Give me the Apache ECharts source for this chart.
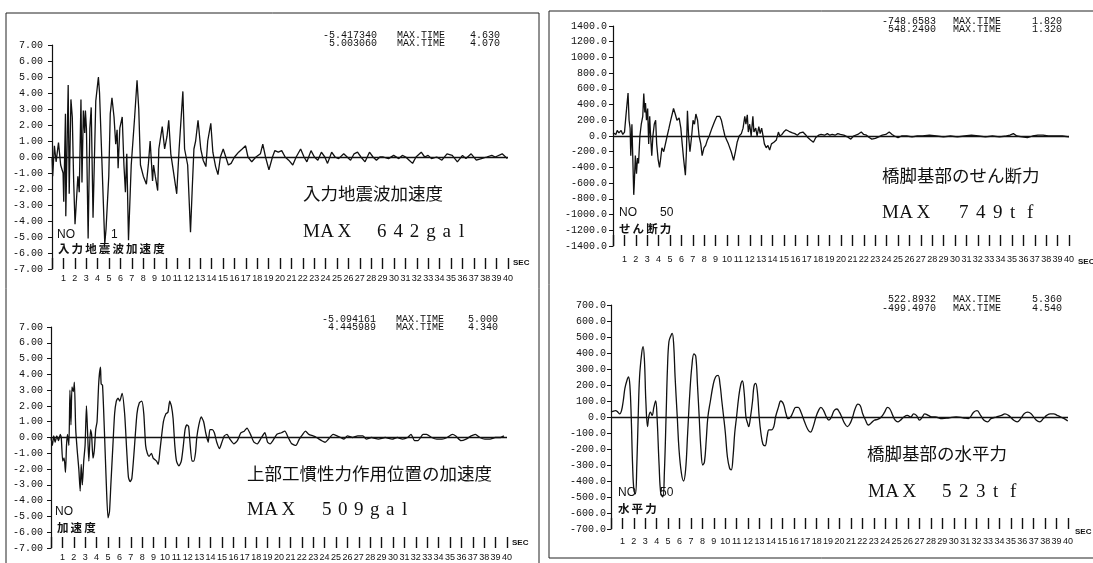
<!DOCTYPE html>
<html>
<head>
<meta charset="utf-8">
<script src="https://cdn.jsdelivr.net/npm/echarts/dist/echarts.min.js"></script>
<style>
html,body{margin:0;padding:0;background:#fff;}
#chart{width:1093px;height:563px;}
</style>
</head>
<body>
<div id="chart"></div>
<script>
// ---------- data (time in sec) ----------
const secTicks = [0, 40, 1];

// 入力地震波加速度 (m/s2)
const inputAccTime = [0.00,0.06,0.21,0.36,0.57,0.76,0.97,1.03,1.18,1.21,1.42,1.51,1.66,1.78,1.90,2.02,2.27,2.39,2.54,2.63,2.75,2.87,2.93,3.02,3.17,3.32,3.44,3.60,3.84,4.07,4.17,4.63,4.74,4.98,5.11,5.26,5.44,5.59,5.71,5.80,5.95,6.16,6.31,6.44,6.56,6.71,6.95,7.25,7.46,7.61,7.76,8.01,8.28,8.46,8.61,8.82,8.91,9.06,9.27,9.37,9.67,9.88,10.09,10.24,10.42,10.63,10.94,11.15,11.48,11.63,11.90,12.15,12.30,12.45,12.60,12.81,13.05,13.26,13.50,13.66,13.93,14.11,14.35,14.56,14.77,15.02,15.17,15.47,15.71,16.01,16.37,16.68,16.98,17.19,17.52,17.89,18.28,18.49,18.73,19.03,19.34,19.55,19.85,20.15,20.45,20.76,21.12,21.42,21.81,22.11,22.36,22.72,23.02,23.32,23.63,23.93,24.17,24.53,24.83,25.14,25.59,25.89,26.19,26.50,26.80,27.10,27.46,27.85,28.16,28.46,28.76,29.06,29.52,29.97,30.42,30.73,31.03,31.33,31.63,31.93,32.39,32.69,32.99,33.29,33.75,34.20,34.65,35.11,35.56,36.01,36.31,36.77,37.22,37.67,38.13,38.58,38.88,39.49,39.79,39.94];
const inputAccValue = [0.0,-1.2,0.7,-0.3,0.9,-0.5,-1.0,-2.8,2.7,-3.7,4.5,-2.3,3.6,2.5,-1.5,-4.2,-1.2,-2.2,3.6,-1.6,2.9,1.5,2.9,1.8,-5.1,1.8,3.1,-3.8,3.5,5.0,4.0,-5.42,-4.5,-1.2,2.7,3.7,2.5,0.8,1.7,-0.7,1.8,2.5,-0.5,-2.2,0.2,-5.2,-0.5,2.5,4.8,3.0,-0.5,-1.2,-1.7,-0.4,1.0,-1.5,-0.5,-1.2,-2.1,0.5,1.9,0.5,1.3,2.3,0.2,-0.8,-2.3,0.5,4.1,0.5,-0.5,-4.7,-2.0,0.5,1.0,2.3,0.5,-0.2,-0.6,1.0,2.1,0.3,-0.6,-1.1,0.0,0.5,0.6,-0.5,-0.4,0.0,0.3,0.5,0.7,0.0,-0.3,0.0,0.2,0.8,0.0,-0.8,0.0,0.4,0.3,0.4,0.0,-0.2,-0.5,0.0,0.5,0.0,-0.3,0.4,0.0,-0.2,0.3,0.0,-0.4,0.3,0.0,-0.1,0.2,0.0,-0.2,0.2,0.3,0.0,-0.3,0.3,0.0,-0.2,0.0,0.0,-0.1,0.1,-0.1,0.1,0.0,-0.2,-0.4,0.0,0.3,0.0,0.1,-0.1,0.0,-0.2,0.2,0.1,-0.3,0.1,-0.1,0.2,-0.2,-0.1,0.0,0.1,0.0,0.2,0.0,-0.1];

// 上部工慣性力作用位置の加速度
const deckAccTime = [0.00,0.12,0.24,0.36,0.51,0.66,0.81,0.90,1.03,1.15,1.27,1.36,1.45,1.57,1.66,1.75,1.84,1.96,2.05,2.17,2.32,2.44,2.56,2.65,2.75,2.87,2.99,3.11,3.20,3.32,3.47,3.56,3.68,3.80,3.92,4.04,4.19,4.34,4.40,4.52,4.68,4.83,5.00,5.13,5.25,5.43,5.58,5.73,5.88,6.03,6.24,6.46,6.64,6.79,6.94,7.09,7.30,7.54,7.75,7.96,8.14,8.30,8.45,8.60,8.81,8.96,9.26,9.41,9.56,9.86,10.08,10.26,10.41,10.56,10.71,10.86,11.01,11.22,11.43,11.61,11.76,11.92,12.07,12.19,12.37,12.52,12.67,12.79,12.97,13.18,13.39,13.57,13.79,13.94,14.15,14.33,14.54,14.78,14.99,15.20,15.44,15.69,16.05,16.35,16.65,16.95,17.19,17.50,17.80,18.10,18.46,18.76,19.00,19.22,19.46,19.82,20.21,20.51,20.81,21.12,21.48,21.78,22.08,22.32,22.62,22.99,23.29,23.74,24.04,24.34,24.74,25.10,25.40,25.70,26.00,26.46,26.91,27.36,27.66,28.11,28.72,29.32,29.92,30.38,30.83,31.28,31.58,31.89,32.19,32.64,32.94,33.39,33.85,34.30,34.75,35.20,35.51,35.96,36.41,36.86,37.22,37.62,38.07,38.52,38.97,39.43,39.73];
const deckAccValue = [0.0,-0.5,0.1,-0.3,0.1,-0.2,0.2,0.0,-1.5,-1.3,-2.2,-0.5,0.2,-0.5,3.0,0.8,3.2,2.9,3.5,0.5,-1.0,-2.0,-3.4,-1.7,-3.0,-1.5,-0.5,2.0,0.5,-1.5,0.5,0.2,-1.3,-0.8,0.5,1.0,3.5,4.45,3.4,3.3,0.5,-2.5,-5.09,-4.7,-3.0,-0.5,1.5,2.3,2.5,2.3,2.8,1.5,-0.8,-2.5,-2.8,-2.6,-0.8,1.5,2.2,2.3,1.5,-0.5,-1.0,-1.2,-1.0,-1.3,-1.5,-1.7,-0.8,1.0,1.5,1.6,2.3,2.0,1.2,-0.5,-1.5,-1.8,-1.5,-0.5,0.5,0.8,0.7,-0.3,-1.5,-1.5,-1.0,0.0,0.8,1.3,1.0,0.3,-0.3,0.5,0.5,0.3,-0.3,-0.7,-0.3,0.1,0.2,-0.1,-0.4,-0.2,0.3,0.4,0.6,0.2,-0.3,-0.4,0.0,0.3,-0.3,-0.4,-0.2,0.2,0.3,0.4,0.0,-0.4,-0.5,-0.1,0.2,0.4,0.2,0.1,0.0,-0.2,-0.3,-0.1,0.2,0.1,0.0,-0.1,0.1,0.0,0.1,0.1,-0.1,0.0,-0.1,0.0,-0.1,0.0,-0.1,0.0,0.2,-0.2,-0.2,0.2,0.2,0.0,-0.1,-0.1,0.0,0.2,0.1,-0.2,-0.1,0.1,0.2,0.0,-0.1,-0.1,0.0,0.0,0.1];

// 橋脚基部のせん断力 (tf)
const shearTime = [0.00,0.09,0.25,0.37,0.52,0.71,0.86,1.01,1.13,1.26,1.32,1.41,1.50,1.56,1.66,1.82,1.87,1.96,2.06,2.15,2.24,2.36,2.48,2.61,2.70,2.79,2.85,2.94,3.04,3.13,3.22,3.28,3.40,3.50,3.62,3.74,3.83,3.96,4.08,4.17,4.29,4.45,4.60,4.75,4.91,5.06,5.31,5.46,5.61,5.80,5.95,6.07,6.20,6.35,6.44,6.53,6.63,6.75,6.90,7.02,7.15,7.27,7.42,7.55,7.70,7.82,7.98,8.13,8.28,8.44,8.68,8.90,9.11,9.36,9.51,9.66,9.82,9.97,10.12,10.37,10.58,10.74,10.89,11.07,11.26,11.41,11.56,11.66,11.78,11.87,11.99,12.12,12.27,12.36,12.52,12.64,12.79,12.91,13.04,13.19,13.28,13.44,13.59,13.74,13.90,14.11,14.33,14.51,14.63,14.82,14.97,15.18,15.43,15.74,15.95,16.17,16.41,16.66,16.87,17.09,17.33,17.58,17.79,18.04,18.25,18.56,18.80,19.02,19.23,19.48,19.72,19.94,20.25,20.55,20.86,21.10,21.47,21.78,21.99,22.24,22.48,22.70,23.01,23.31,23.62,23.93,24.23,24.48,24.69,25.00,25.31,25.77,26.23,26.69,27.15,27.76,28.37,28.99,29.60,30.21,30.83,31.44,32.06,32.67,33.28,33.90,34.51,34.82,35.12,35.43,35.89,36.35,36.81,37.27,37.73,38.19,38.80,39.42,40.00];
const shearValue = [40,60,20,70,40,70,20,50,250,270,548,200,100,-250,150,-749,-600,-250,-480,-280,-350,0,150,250,540,300,420,200,350,-100,250,50,-250,0,150,200,-100,-300,-400,-300,-150,-200,-100,0,100,200,350,280,200,230,100,-100,-300,-500,-200,320,0,-200,0,200,150,280,200,0,-100,-250,-150,-120,-50,0,100,180,250,250,200,100,0,-50,-100,-200,-310,-200,-80,0,30,100,250,150,270,50,150,0,250,50,100,0,120,30,100,-20,-100,-150,-120,-180,-100,-80,-50,50,0,20,50,80,60,40,30,10,40,50,20,-20,-50,-80,-20,10,20,10,30,10,20,10,30,20,10,-10,-40,0,20,50,20,10,-20,-40,-30,-10,10,20,50,20,0,-20,0,0,-10,0,0,10,0,-10,0,-10,0,10,0,-10,0,-10,0,10,30,0,-10,-20,0,10,10,0,0,0,-10];

// 橋脚基部の水平力 (tf)
const horizTime = [0.00,0.15,0.40,0.61,0.76,0.92,1.07,1.22,1.40,1.53,1.65,1.77,1.89,2.01,2.14,2.26,2.38,2.50,2.69,2.81,2.93,3.05,3.20,3.30,3.45,3.60,3.75,3.91,4.03,4.21,4.36,4.54,4.67,4.82,4.94,5.07,5.25,5.36,5.49,5.61,5.80,5.95,6.16,6.35,6.53,6.71,6.90,7.08,7.26,7.42,7.57,7.72,7.87,8.03,8.18,8.33,8.48,8.70,8.94,9.15,9.37,9.55,9.70,9.86,10.01,10.19,10.38,10.53,10.68,10.83,10.99,11.17,11.35,11.50,11.66,11.81,11.96,12.05,12.21,12.39,12.51,12.66,12.82,12.97,13.12,13.30,13.49,13.67,13.82,14.04,14.25,14.40,14.65,14.86,15.10,15.32,15.50,15.72,15.93,16.17,16.39,16.63,16.94,17.24,17.46,17.70,17.94,18.16,18.37,18.61,18.86,19.07,19.29,19.53,19.77,19.99,20.20,20.45,20.69,20.93,21.15,21.36,21.61,21.82,22.03,22.28,22.52,22.73,23.04,23.34,23.65,23.95,24.20,24.41,24.66,24.87,25.11,25.33,25.63,25.94,26.24,26.49,26.73,27.01,27.25,27.46,27.77,28.07,28.38,28.99,29.60,30.21,30.82,31.28,31.74,32.04,32.35,32.65,32.96,33.26,33.72,34.18,34.48,34.79,35.25,35.55,35.86,36.16,36.47,36.77,37.23,37.53,37.84,38.14,38.45,38.75,39.06,39.37,39.67,39.98];
const horizValue = [30,35,40,30,20,40,100,180,230,250,200,0,-300,-460,-480,-300,0,250,400,440,350,100,-60,0,30,10,60,100,0,-300,-480,-499,-350,0,300,470,510,523,450,250,0,-200,-350,-400,-330,-100,150,320,395,380,200,0,-200,-300,-280,-150,0,100,200,250,260,200,100,0,-100,-250,-320,-330,-250,-100,0,120,200,225,150,0,-40,-60,0,100,190,210,150,0,-100,-170,-180,-120,-80,-80,-60,0,60,100,80,20,-10,0,30,60,60,30,-30,-80,-95,-60,0,40,60,40,0,-20,0,40,50,30,0,-40,-60,-40,0,50,80,70,20,-20,-50,-40,-20,-15,0,30,60,50,10,-20,-30,-20,0,10,0,20,10,-20,0,20,10,0,0,-10,-5,0,-5,-10,30,40,10,-20,-30,-10,0,10,20,10,-20,-30,-10,20,30,20,-20,-30,-10,10,20,20,10,0,-10,-25];

// axis ranges and header texts
const accRange = [-7, 7, 1];
const shearRange = [-1400, 1400, 200];
const horizRange = [-700, 700, 100];

const headers = [
  {rows: [['-5.417340','MAX.TIME','4.630'], ['5.003060','MAX.TIME','4.070']]},
  {rows: [['-5.094161','MAX.TIME','5.000'], ['4.445989','MAX.TIME','4.340']]},
  {rows: [['-748.6583','MAX.TIME','1.820'], ['548.2490','MAX.TIME','1.320']]},
  {rows: [['522.8932','MAX.TIME','5.360'], ['-499.4970','MAX.TIME','4.540']]}
];
const titles = ['入力地震波加速度', '上部工慣性力作用位置の加速度', '橋脚基部のせん断力', '橋脚基部の水平力'];
const maxWords = ['MAX', 'MAX', 'MAX', 'MAX'];
const maxValues = ['642gal', '509gal', '749tf', '523tf'];
const noLabels = [['NO', '1'], ['NO', ''], ['NO', '50'], ['NO', '50']];
const subLabels = ['入力地震波加速度', '加速度', 'せん断力', '水平力'];
const unitLabel = 'SEC';

// ---------- layout ----------
const panels = [
  {grid:{left:52, top:45, width:456, height:224}, range:accRange, dec:2, ylm:9, xlm:5,
   hdr:{y:35, dy:8, c1:377, c2:397, c3:500}, title:[303,193], max:[303,377,232,17.3,16.4],
   no:[57,111,235], sub:[58,249], sec:[513,263]},
  {grid:{left:51, top:327, width:456, height:221}, range:accRange, dec:2, ylm:8, xlm:5,
   hdr:{y:319, dy:8.5, c1:376, c2:396, c3:498}, title:[247,473], max:[247,322,510,17.3,16],
   no:[55,0,512], sub:[57,528], sec:[512,543]},
  {grid:{left:613, top:26, width:456, height:220}, range:shearRange, dec:1, ylm:6, xlm:9,
   hdr:{y:21, dy:8.5, c1:936, c2:953, c3:1062}, title:[882,175], max:[882,959,213,17.3,17],
   no:[619,660,213], sub:[619,229], sec:[1078,262]},
  {grid:{left:611, top:305, width:457, height:224}, range:horizRange, dec:1, ylm:5, xlm:8,
   hdr:{y:299, dy:9, c1:936, c2:953, c3:1062}, title:[867,453], max:[868,942,492,17.3,17],
   no:[618,660,493], sub:[618,509], sec:[1075,532]}
];

const seriesData = [
  [inputAccTime, inputAccValue, 0],
  [deckAccTime, deckAccValue, 0.2],
  [shearTime, shearValue, 0],
  [horizTime, horizValue, 0.4]
];

const MONO = "'Liberation Mono','DejaVu Sans Mono',monospace";
const SANS = "'Liberation Sans','DejaVu Sans',sans-serif";
const SERIF = "'Liberation Serif','DejaVu Serif',serif";
const CJK = "'Noto Sans CJK JP',sans-serif";

function txt(text, x, y, font, align) {
  return {type:'text', x:x, y:y, silent:true,
    style:{text:text, font:font, fill:'#111', textAlign:align||'left', textVerticalAlign:'middle'}};
}
function spaced(str, x0, y, pitch, font) {
  return str.split('').map((c, i) => txt(c, x0 + i * pitch, y, font, 'left'));
}

const grids = [], xAxes = [], yAxes = [], series = [], graphics = [];

// frames
graphics.push({type:'rect', silent:true, shape:{x:6, y:13, width:533, height:570},
  style:{fill:'none', stroke:'#222', lineWidth:1}});
graphics.push({type:'rect', silent:true, shape:{x:549, y:11, width:560, height:547},
  style:{fill:'none', stroke:'#222', lineWidth:1}});

panels.forEach((p, i) => {
  grids.push(p.grid);
  xAxes.push({
    type:'value', gridIndex:i, min:secTicks[0], max:secTicks[1], interval:secTicks[2],
    position:'bottom',
    axisLine:{show:false, onZero:false},
    axisTick:{show:true, inside:true, length:11, lineStyle:{color:'#111', width:1.4}},
    axisLabel:{show:true, margin:p.xlm, fontSize:9, fontFamily:SANS, color:'#111',
      formatter: v => v === 0 ? '' : String(v)},
    splitLine:{show:false}
  });
  yAxes.push({
    type:'value', gridIndex:i, min:p.range[0], max:p.range[1], interval:p.range[2],
    axisLine:{show:true, onZero:false, lineStyle:{color:'#111', width:1.2}},
    axisTick:{show:true, length:4, lineStyle:{color:'#111', width:1}},
    axisLabel:{show:true, margin:p.ylm, fontSize:10, fontFamily:MONO, color:'#111',
      formatter: v => v.toFixed(p.dec)},
    splitLine:{show:false}
  });
  const [t, v, sm] = seriesData[i];
  series.push({
    type:'line', xAxisIndex:i, yAxisIndex:i, showSymbol:false, symbol:'none',
    smooth: sm || false, animation:false,
    lineStyle:{color:'#111', width:1.3},
    data: t.map((x, k) => [x, v[k]]),
    markLine:{silent:true, symbol:'none', label:{show:false}, animation:false,
      lineStyle:{color:'#111', width:1.3, type:'solid'}, data:[{yAxis:0}]}
  });

  // header lines
  headers[i].rows.forEach((r, k) => {
    const y = p.hdr.y + k * p.hdr.dy;
    graphics.push(txt(r[0], p.hdr.c1, y, '10px ' + MONO, 'right'));
    graphics.push(txt(r[1], p.hdr.c2, y, '10px ' + MONO, 'left'));
    graphics.push(txt(r[2], p.hdr.c3, y, '10px ' + MONO, 'right'));
  });
  // title and max
  graphics.push(txt(titles[i], p.title[0], p.title[1], '17.5px ' + CJK, 'left'));
  spaced(maxWords[i], p.max[0], p.max[2], p.max[3], '19px ' + SERIF).forEach(g => graphics.push(g));
  spaced(maxValues[i], p.max[1], p.max[2], p.max[4], '19px ' + SERIF).forEach(g => graphics.push(g));
  // NO labels
  graphics.push(txt(noLabels[i][0], p.no[0], p.no[2], '12px ' + SANS, 'left'));
  if (noLabels[i][1]) graphics.push(txt(noLabels[i][1], p.no[1], p.no[2], '12px ' + SANS, 'left'));
  spaced(subLabels[i], p.sub[0], p.sub[1], 13.6, 'bold 11.5px ' + CJK).forEach(g => graphics.push(g));
  graphics.push(txt(unitLabel, p.sec[0], p.sec[1], 'bold 8px ' + SANS, 'left'));
});

const chart = echarts.init(document.getElementById('chart'), null, {renderer:'canvas'});
chart.setOption({
  backgroundColor:'#fff',
  animation:false,
  grid:grids, xAxis:xAxes, yAxis:yAxes, series:series, graphic:graphics
});
</script>
</body>
</html>
